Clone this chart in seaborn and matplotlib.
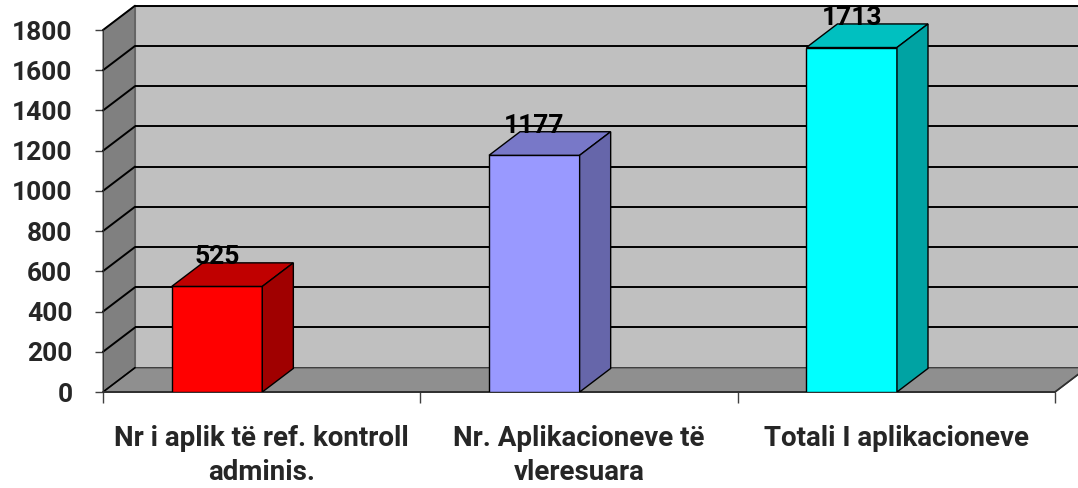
import matplotlib
matplotlib.use("Agg")
import matplotlib.pyplot as plt
from matplotlib.patches import Polygon
import seaborn as sns

categories = ["Nr i aplik të ref. kontroll\nadminis.", "Nr. Aplikacioneve të\nvleresuara", "Totali I aplikacioneve"]
values = [525, 1177, 1713]
front_colors = ["#ff0000", "#9999ff", "#00ffff"]
top_colors = ["#c00000", "#7878c8", "#00c0c0"]
side_colors = ["#a00000", "#6666aa", "#00a3a3"]
y_ticks = [0, 200, 400, 600, 800, 1000, 1200, 1400, 1600, 1800]

sns.set_theme(style="white")
plt.rcParams["font.family"] = ["Roboto", "DejaVu Sans"]
plt.rcParams["font.weight"] = "bold"

FS = 19

W, H = 1078, 488
fig = plt.figure(figsize=(W / 100, H / 100), dpi=100)

cat_px = 317.33
val_px = 0.2011
left_px, bottom_px = 103, 392
x0 = -(217 - 103) / cat_px
dxd = 32 / cat_px
dyd = 24.3 / val_px
ymax = 1800 + dyd
xmax = x0 + 3 + dxd + 0.06

ax = fig.add_axes([left_px / W, (H - bottom_px) / H,
                   (xmax - x0) * cat_px / W, ymax * val_px / H])
for s in ax.spines.values():
    s.set_visible(False)

x1 = x0 + 3
# back wall
ax.add_patch(Polygon([(x0 + dxd, dyd), (x1 + dxd, dyd), (x1 + dxd, 1800 + dyd), (x0 + dxd, 1800 + dyd)],
                     closed=True, facecolor="#c0c0c0", edgecolor="#808080", lw=0.8, zorder=0, clip_on=False))
# left wall
ax.add_patch(Polygon([(x0, 0), (x0, 1800), (x0 + dxd, 1800 + dyd), (x0 + dxd, dyd)],
                     closed=True, facecolor="#808080", edgecolor="#505050", lw=0.8, zorder=0.5, clip_on=False))
# floor
ax.add_patch(Polygon([(x0, 0), (x1, 0), (x1 + dxd, dyd), (x0 + dxd, dyd)],
                     closed=True, facecolor="#8f8f8f", edgecolor="#404040", lw=1.0, zorder=0.5, clip_on=False))
# gridlines
for v in y_ticks[1:]:
    ax.plot([x0 + dxd, x1 + dxd], [v + dyd, v + dyd], color="black", lw=1.4, zorder=1, clip_on=False,
            solid_capstyle="butt")
    ax.plot([x0, x0 + dxd], [v, v + dyd], color="black", lw=1.4, zorder=1, clip_on=False)
ax.plot([x0, x0 + dxd], [0, dyd], color="black", lw=1.2, zorder=1)
ax.plot([x0, x0], [0, 1800], color="#303030", lw=1.2, zorder=1)
ax.plot([x0, x1], [0, 0], color="#303030", lw=1.4, zorder=1, clip_on=False)
ax.plot([x1, x1 + dxd], [0, dyd], color="#303030", lw=1.2, zorder=1, clip_on=False)

sns.barplot(x=categories, y=values, hue=categories, palette=front_colors, legend=False,
            width=90.6 / cat_px, edgecolor="black", linewidth=1.0, ax=ax, zorder=3, saturation=1)

bd = 0.97
for i, p in enumerate(ax.patches[-3:]):
    bx, bw, bh = p.get_x(), p.get_width(), p.get_height()
    ddx, ddy = dxd * bd, dyd * bd
    ax.add_patch(Polygon([(bx, bh), (bx + bw, bh), (bx + bw + ddx, bh + ddy), (bx + ddx, bh + ddy)],
                         closed=True, facecolor=top_colors[i], edgecolor="black", lw=1.0, zorder=3))
    ax.add_patch(Polygon([(bx + bw, 0), (bx + bw, bh), (bx + bw + ddx, bh + ddy), (bx + bw + ddx, ddy)],
                         closed=True, facecolor=side_colors[i], edgecolor="black", lw=1.0, zorder=3))
    ax.annotate(f"{values[i]}", xy=(bx + bw / 2, bh), xytext=(0, 21), textcoords="offset points",
                ha="center", va="center", fontsize=FS, fontweight="bold", color="black", zorder=5)

ax.set_xlim(x0, xmax)
ax.set_ylim(0, ymax)
ax.set_yticks(y_ticks)
ax.set_yticklabels([str(t) for t in y_ticks], fontsize=FS, fontweight="bold")
ax.tick_params(axis="y", which="major", direction="out", length=6, width=1, color="#404040",
               pad=16, left=True, labelleft=True)
ax.set_xticks([x0 + k for k in range(4)])
ax.set_xticklabels([])
ax.set_xticks([x0 + 0.5 + k for k in range(3)], minor=True)
ax.set_xticklabels(categories, minor=True, fontsize=20, fontweight="bold", linespacing=1.3,
                   multialignment="center")
ax.tick_params(axis="x", which="major", direction="out", length=8, width=1, color="#404040", bottom=True)
ax.tick_params(axis="x", which="minor", length=0, pad=24, bottom=True)
ax.set_xlabel("")
ax.set_ylabel("")
ax.grid(False)

fig.savefig("out.png", dpi=100)
